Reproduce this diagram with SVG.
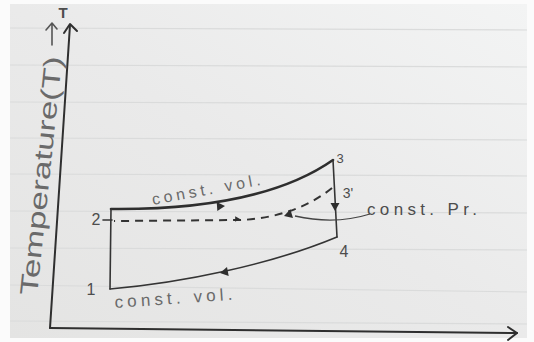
<svg xmlns="http://www.w3.org/2000/svg" width="534" height="342" viewBox="0 0 534 342">
  <defs>
    <linearGradient id="paper" x1="0" y1="1" x2="1" y2="0">
      <stop offset="0" stop-color="#e4e4e3"/>
      <stop offset="0.5" stop-color="#eaeaea"/>
      <stop offset="1" stop-color="#f3f4f4"/>
    </linearGradient>
    <path id="tri" d="M0,0 L-8,-4.5 L-8,4.5 Z"/>
    <style>
      .ruled { stroke: #dadbdb; stroke-width: 1.2; fill: none; }
      .axis { stroke: #2f2f2f; stroke-width: 2; fill: none; stroke-linecap: round; stroke-linejoin: round; }
      .proc { stroke: #343434; stroke-width: 1.6; fill: none; stroke-linecap: round; }
      .heavy { stroke: #2e2e2e; stroke-width: 2.6; fill: none; stroke-linecap: round; }
      .dash { stroke: #333; stroke-width: 2; fill: none; stroke-dasharray: 8 6; }
      .lead { stroke: #444; stroke-width: 1.3; fill: none; }
      .head { fill: #2e2e2e; }
      .lbl { font-family: "Liberation Sans", Arial, sans-serif; fill: #4d4d4d; }
      .pencil { font-family: "Liberation Sans", Arial, sans-serif; fill: #6a6a6a; }
    </style>
  </defs>

  <rect x="0" y="0" width="534" height="342" fill="#fbfbfb"/>
  <rect x="10" y="4" width="517" height="334" fill="url(#paper)"/>

  <g id="ruling">
    <line class="ruled" x1="10" y1="28" x2="527" y2="30"/>
    <line class="ruled" x1="10" y1="65" x2="527" y2="67"/>
    <line class="ruled" x1="10" y1="102" x2="527" y2="104"/>
    <line class="ruled" x1="10" y1="138" x2="527" y2="140"/>
    <line class="ruled" x1="10" y1="174" x2="527" y2="176"/>
    <line class="ruled" x1="10" y1="211" x2="527" y2="213"/>
    <line class="ruled" x1="10" y1="248" x2="527" y2="250"/>
    <line class="ruled" x1="10" y1="285" x2="527" y2="292"/>
    <line class="ruled" x1="10" y1="321" x2="527" y2="324"/>
  </g>

  <g id="axes">
    <path class="axis" d="M50,328 L70,25"/>
    <path class="axis" d="M64,33 L70,24 L77,31"/>
    <path class="axis" d="M50,328 L517,333"/>
    <path class="axis" d="M508,327 L517,333 L508,340"/>
    <path class="axis" style="stroke:#555;stroke-width:1.6" d="M52,45 L52,24 M46,30 L52,23 L57,29"/>
    <text class="lbl" x="63" y="18" font-size="15" font-weight="bold" text-anchor="middle" fill="#333">T</text>
    <text class="pencil" font-size="25" fill="#747474" transform="translate(37,296) rotate(-84)" textLength="240" lengthAdjust="spacingAndGlyphs">Temperature(T)</text>
  </g>

  <g id="connectors">
    <path id="p2-3" class="heavy" d="M111,209 C220,210 290,190 333,160"/>
    <path id="p3-4" class="proc" d="M333,160 L337,237"/>
    <path id="p4-1" class="proc" d="M337,237 C270,265 180,283 110,289"/>
    <path id="p1-2" class="proc" d="M110,289 L111,209"/>
    <path id="p3p-2" class="dash" d="M332,188 C305,210 270,219 240,220 L114,221"/>
    <path id="leader" class="lead" d="M370,214 Q335,225 295,216"/>
    <use href="#tri" class="head" transform="translate(225,206) rotate(-4)"/>
    <use href="#tri" class="head" transform="translate(335,211) rotate(90)"/>
    <use href="#tri" class="head" transform="translate(220,273) rotate(169)"/>
    <use href="#tri" class="head" transform="translate(284,216) rotate(163)"/>
    <use href="#tri" class="head" transform="translate(240,219) scale(0.6)"/>
  </g>

  <g id="point-1">
    <text class="lbl" x="91" y="295" font-size="16" text-anchor="middle">1</text>
  </g>
  <g id="point-2">
    <text class="lbl" x="96" y="225" font-size="16" text-anchor="middle">2</text>
    <path class="proc" d="M103,220 L112,220"/>
  </g>
  <g id="point-3">
    <text class="lbl" x="340" y="163" font-size="13" text-anchor="middle">3</text>
  </g>
  <g id="point-3p">
    <text class="lbl" x="348" y="198" font-size="14" text-anchor="middle">3'</text>
  </g>
  <g id="point-4">
    <text class="lbl" x="344" y="257" font-size="16" text-anchor="middle">4</text>
  </g>

  <g id="labels">
    <text class="pencil" font-size="16" transform="translate(153,205) rotate(-10.5)" textLength="110" lengthAdjust="spacing">const. vol.</text>
    <text class="pencil" font-size="17" transform="translate(115,308) rotate(-4)" textLength="118" lengthAdjust="spacing">const. vol.</text>
    <text class="lbl" font-size="17" x="367" y="215" textLength="110" lengthAdjust="spacing" fill="#444">const. Pr.</text>
  </g>
</svg>
